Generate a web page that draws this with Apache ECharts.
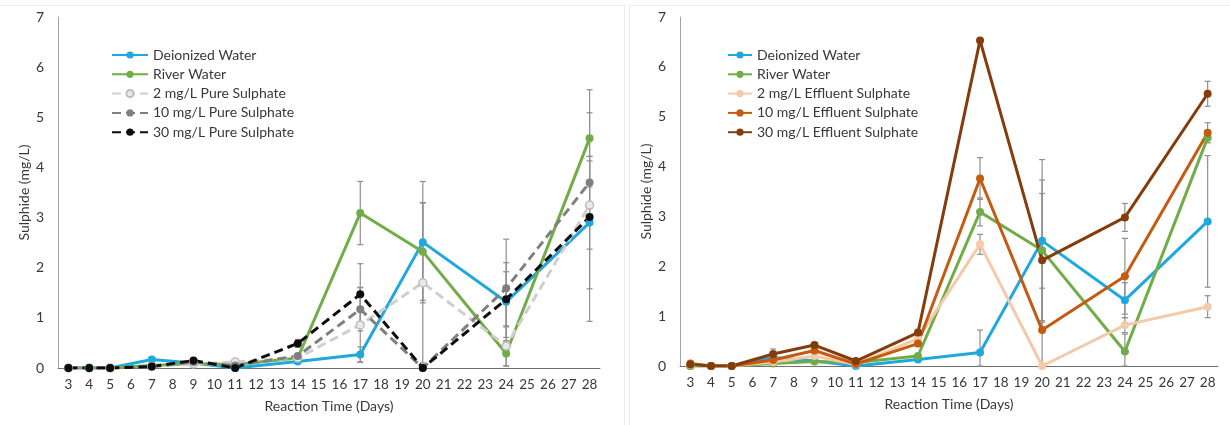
<!DOCTYPE html>
<html>
<head>
<meta charset="utf-8">
<script src="https://cdn.jsdelivr.net/npm/echarts@6/dist/echarts.min.js"></script>
<style>
  html, body { margin: 0; padding: 0; background: #fff; }
  #chart { width: 1230px; height: 425px; }
</style>
</head>
<body>
<div id="chart"></div>
<script>
// x axis tick labels (every day) and the days that were sampled
var DAYS = ['3','4','5','6','7','8','9','10','11','12','13','14','15','16','17','18','19','20','21','22','23','24','25','26','27','28'];
var SAMPLE_DAYS = [3, 4, 5, 7, 9, 11, 14, 17, 20, 24, 28];

// left panel: pure sulphate
var deionized = [0, 0, 0, 0.17, 0.10, 0, 0.13, 0.27, 2.51, 1.32, 2.90];
var river     = [0, 0, 0, 0.05, 0.09, 0.07, 0.20, 3.09, 2.32, 0.29, 4.58];
var pure2     = [0, 0, 0, 0.03, 0.08, 0.12, 0.20, 0.86, 1.70, 0.44, 3.25];
var pure10    = [0, 0, 0, 0.03, 0.12, 0.05, 0.24, 1.17, 0, 1.59, 3.70];
var pure30    = [0, 0, 0, 0.03, 0.15, 0, 0.49, 1.47, 0, 1.37, 3.01];

// right panel: effluent sulphate
var eff2  = [0.02, 0, 0, 0.08, 0.20, 0.03, 0.55, 2.44, 0, 0.82, 1.19];
var eff10 = [0.05, 0, 0, 0.12, 0.31, 0.04, 0.45, 3.76, 0.72, 1.80, 4.68];
var eff30 = [0.03, 0, 0, 0.24, 0.42, 0.10, 0.67, 6.53, 2.12, 2.98, 5.46];

// error bars (+/-)
var errDeionizedL = [0, 0, 0, 0.03, 0.02, 0, 0.03, 0.15, 1.21, 0.78, 1.32];
var errRiverL     = [0, 0, 0, 0.02, 0.02, 0.02, 0.05, 0.63, 0.97, 0.25, 0.97];
var errPure2      = [0, 0, 0, 0.02, 0.02, 0.03, 0.05, 0.75, 1.60, 0.40, 0.88];
var errPure10     = [0, 0, 0, 0.02, 0.03, 0.02, 0.05, 0.43, 0, 0.98, 0.52];
var errPure30     = [0, 0, 0, 0.02, 0.03, 0, 0.08, 0.61, 0, 0.55, 2.08];
var errDeionizedR = [0, 0, 0, 0.05, 0.02, 0, 0.03, 0.45, 1.63, 0.35, 1.32];
var errRiverR     = [0, 0, 0, 0.02, 0.02, 0.02, 0.05, 0.28, 1.41, 0.35, 0.10];
var errEff2       = [0.02, 0, 0, 0.03, 0.05, 0.02, 0.08, 0.20, 0, 0.15, 0.22];
var errEff10      = [0.03, 0, 0, 0.05, 0.05, 0.02, 0.06, 0.42, 0.84, 0.76, 0.20];
var errEff30      = [0.03, 0, 0, 0.10, 0.05, 0.03, 0.06, 0.03, 1.34, 0.28, 0.25];

var FONT = 'Lato';
var TEXT = '#383838';
var DASH = [9, 5];

var chart = echarts.init(document.getElementById('chart'));

function pairs(vals) {
  return SAMPLE_DAYS.map(function(d, i) { return [String(d), vals[i]]; });
}

function lineSeries(name, vals, color, idx, dashed, marker) {
  return {
    type: 'line',
    name: name,
    xAxisIndex: idx,
    yAxisIndex: idx,
    data: pairs(vals),
    symbol: 'circle',
    symbolSize: 8,
    z: 3,
    lineStyle: { color: color, width: 3, type: dashed ? DASH : 'solid' },
    itemStyle: marker || { color: color },
    emphasis: { disabled: true }
  };
}

function errorSeries(vals, errs, idx) {
  var data = [];
  SAMPLE_DAYS.forEach(function(d, i) {
    if (errs[i] > 0) data.push([String(d), Math.max(0, vals[i] - errs[i]), vals[i] + errs[i]]);
  });
  return {
    type: 'custom',
    xAxisIndex: idx,
    yAxisIndex: idx,
    silent: true,
    z: 2,
    encode: { x: 0, y: [1, 2] },
    data: data,
    renderItem: function(params, api) {
      var lo = api.coord([api.value(0), api.value(1)]);
      var hi = api.coord([api.value(0), api.value(2)]);
      var st = { stroke: '#8f8f8f', lineWidth: 1.2 };
      return {
        type: 'group',
        children: [
          { type: 'line', shape: { x1: hi[0], y1: hi[1], x2: lo[0], y2: lo[1] }, style: st },
          { type: 'line', shape: { x1: hi[0] - 3, y1: hi[1], x2: hi[0] + 3, y2: hi[1] }, style: st },
          { type: 'line', shape: { x1: lo[0] - 3, y1: lo[1], x2: lo[0] + 3, y2: lo[1] }, style: st }
        ]
      };
    }
  };
}

function xAxis(idx) {
  return {
    type: 'category',
    gridIndex: idx,
    data: DAYS,
    boundaryGap: true,
    name: 'Reaction Time (Days)',
    nameLocation: 'middle',
    nameGap: 31,
    nameTextStyle: { fontFamily: FONT, fontSize: 14, color: TEXT },
    axisLine: { lineStyle: { color: '#707070', width: 1 } },
    axisTick: { show: false },
    axisLabel: { interval: 0, margin: 10, fontFamily: FONT, fontSize: 13.5, color: TEXT },
    splitLine: { show: false }
  };
}

function yAxis(idx) {
  return {
    type: 'value',
    gridIndex: idx,
    min: 0,
    max: 7,
    interval: 1,
    name: 'Sulphide (mg/L)',
    nameLocation: 'middle',
    nameGap: 27,
    nameTextStyle: { fontFamily: FONT, fontSize: 14, color: TEXT },
    axisLine: { show: true, lineStyle: { color: '#a3a3a3', width: 1 } },
    axisTick: { show: false },
    axisLabel: { margin: 14, fontFamily: FONT, fontSize: 14, color: TEXT },
    splitLine: { show: false }
  };
}

function legend(names, left, itemWidth) {
  return {
    orient: 'vertical',
    left: left,
    top: 48,
    padding: 0,
    itemWidth: itemWidth,
    itemHeight: 9,
    itemGap: 5.3,
    selectedMode: false,
    data: names,
    textStyle: { fontFamily: FONT, fontSize: 14, color: TEXT, lineHeight: 14 }
  };
}

var leftNames = ['Deionized Water', 'River Water', '2 mg/L Pure Sulphate', '10 mg/L Pure Sulphate', '30 mg/L Pure Sulphate'];
var rightNames = ['Deionized Water', 'River Water', '2 mg/L Effluent Sulphate', '10 mg/L Effluent Sulphate', '30 mg/L Effluent Sulphate'];

var option = {
  animation: false,
  backgroundColor: '#ffffff',
  textStyle: { fontFamily: FONT },
  grid: [
    { left: 58, top: 17, width: 542, height: 351 },
    { left: 680, top: 17, width: 538, height: 349 }
  ],
  xAxis: [xAxis(0), xAxis(1)],
  yAxis: [yAxis(0), yAxis(1)],
  legend: [legend(leftNames, 111, 36), legend(rightNames, 727, 24)],
  graphic: [
    { type: 'polyline', shape: { points: [[0, 5.5], [624.5, 5.5], [624.5, 425]] }, style: { stroke: '#ebebeb', fill: null, lineWidth: 1 }, silent: true },
    { type: 'polyline', shape: { points: [[629.5, 425], [629.5, 5.5], [1230, 5.5]] }, style: { stroke: '#ebebeb', fill: null, lineWidth: 1 }, silent: true }
  ],
  series: [
    errorSeries(deionized, errDeionizedL, 0),
    errorSeries(river, errRiverL, 0),
    errorSeries(pure2, errPure2, 0),
    errorSeries(pure10, errPure10, 0),
    errorSeries(pure30, errPure30, 0),
    lineSeries('Deionized Water', deionized, '#1fa8de', 0),
    lineSeries('River Water', river, '#70ad47', 0),
    lineSeries('2 mg/L Pure Sulphate', pure2, '#cfcfcf', 0, true, { color: '#e9e9e9', borderColor: '#bdbdbd', borderWidth: 1.5 }),
    lineSeries('10 mg/L Pure Sulphate', pure10, '#7f7f7f', 0, true),
    lineSeries('30 mg/L Pure Sulphate', pure30, '#0d0d0d', 0, true),

    errorSeries(deionized, errDeionizedR, 1),
    errorSeries(river, errRiverR, 1),
    errorSeries(eff2, errEff2, 1),
    errorSeries(eff10, errEff10, 1),
    errorSeries(eff30, errEff30, 1),
    lineSeries('Deionized Water', deionized, '#1fa8de', 1),
    lineSeries('River Water', river, '#70ad47', 1),
    lineSeries('2 mg/L Effluent Sulphate', eff2, '#f5c9aa', 1),
    lineSeries('10 mg/L Effluent Sulphate', eff10, '#c55a11', 1),
    lineSeries('30 mg/L Effluent Sulphate', eff30, '#843c0c', 1)
  ]
};

chart.setOption(option);
</script>
</body>
</html>
